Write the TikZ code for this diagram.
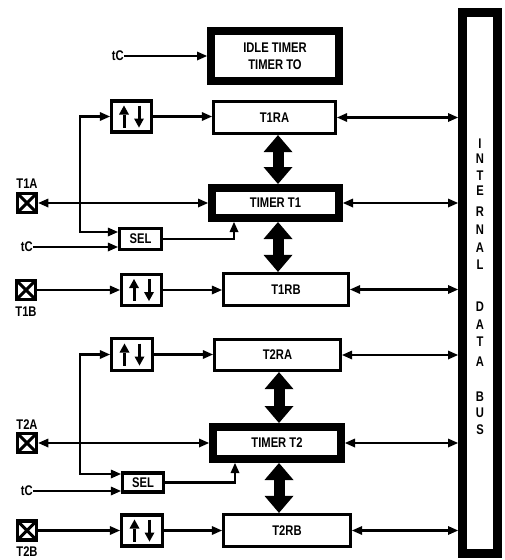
\documentclass[tikz,border=0pt]{standalone}
\usepackage{fontspec}
\setmainfont{Liberation Sans}[FakeStretch=0.8]
\usetikzlibrary{arrows.meta,calc}
\begin{document}
\begin{tikzpicture}[x=1pt,y=-1pt,
  every node/.style={font=\bfseries\fontsize{14}{17}\selectfont,inner sep=0pt},
  conn/.style={line width=2.4pt,-{Triangle[length=10pt,width=9pt,line width=0pt]}},
  conntwo/.style={line width=2.4pt,{Triangle[length=10pt,width=9pt,line width=0pt]}-{Triangle[length=10pt,width=9pt,line width=0pt]}},
  fat/.style={line width=11pt,{Triangle[length=17pt,width=29pt,line width=0pt]}-{Triangle[length=17pt,width=29pt,line width=0pt]}},
  rbox/.style 2 args={draw,line width=3.2pt,minimum width=#1,minimum height=#2},
  tbox/.style 2 args={draw,line width=8pt,minimum width=#1,minimum height=#2},
  padbox/.style={draw,line width=3.6pt,minimum size=19pt,
    path picture={\draw[line width=3pt] (path picture bounding box.north west) -- (path picture bounding box.south east)
      (path picture bounding box.south west) -- (path picture bounding box.north east);}},
  udbox/.style 2 args={draw,line width=3.2pt,minimum width=#1,minimum height=#2,
    path picture={
      \draw[line width=3pt,-{Triangle[length=9pt,width=10pt,line width=0pt]}]
        ([shift={(-7.5pt,-11pt)}]path picture bounding box.center) -- ([shift={(-7.5pt,11pt)}]path picture bounding box.center);
      \draw[line width=3pt,-{Triangle[length=9pt,width=10pt,line width=0pt]}]
        ([shift={(7.5pt,11pt)}]path picture bounding box.center) -- ([shift={(7.5pt,-11pt)}]path picture bounding box.center);}}
]
\useasboundingbox (0,0) rectangle (504,560);

% internal data bus
\node[draw,line width=9pt,minimum width=35pt,minimum height=541pt] (bus) at (480,283) {};
\foreach \l/\y [count=\i] in {I/144,N/159,T/176,E/191,R/212,N/230,A/248,L/265,D/307,A/325,T/342,A/362,B/397,U/413,S/430}
  \node (bl\i) at (480,\y) {\l};

% idle timer
\node[tbox={128pt}{50pt},align=center] (T0) at (275,56) {IDLE TIMER\\TIMER TO};
\node[anchor=east] (tc0) at (124,56) {tC};
\draw[conn] (tc0.east) -- (T0.west);

% ---------------- group 1
\node[rbox={122pt}{32pt}] (T1RA) at (274.5,117.5) {T1RA};
\node[udbox={40pt}{31pt}] (ud1) at (131.5,116.5) {};
\node[tbox={127pt}{30pt}] (T1) at (275.5,203) {TIMER T1};
\node[rbox={42pt}{21pt}] (sel1) at (140.5,239) {SEL};
\node[rbox={125pt}{32pt}] (T1RB) at (286,289.5) {T1RB};
\node[udbox={40pt}{31pt}] (ud2) at (141.5,290) {};
\node[padbox] (p1a) at (27,203) {};
\node (l1a) at (27,184) {T1A};
\node[padbox] (p1b) at (26,290) {};
\node (l1b) at (26,312) {T1B};
\node[anchor=east] (tc1) at (33,247) {tC};

\coordinate (xv1) at (80,232);
\coordinate (xs1) at (234,0);
\coordinate (xf1) at (278,0);

\draw[conntwo] (ud1.west) -| (xv1) -- (xv1 -| sel1.west);
\draw[conn] (tc1.east) -- (tc1.east -| sel1.west);
\draw[conn] (sel1.east) -| (T1.south -| xs1);
\draw[conn] (ud1.east) -- (ud1.east -| T1RA.west);
\draw[conntwo] (p1a.east) -- (T1.west);
\draw[conn] (p1b.east) -- (ud2.west);
\draw[conn] (ud2.east) -- (ud2.east -| T1RB.west);
\draw[fat] (T1RA.south -| xf1) -- (T1.north -| xf1);
\draw[fat] (T1.south -| xf1) -- (T1RB.north -| xf1);
\draw[conntwo] (T1RA.east) -- (T1RA.east -| bus.west);
\draw[conntwo] (T1.east) -- (T1.east -| bus.west);
\draw[conntwo] (T1RB.east) -- (T1RB.east -| bus.west);

% ---------------- group 2
\node[udbox={41pt}{32pt}] (ud3) at (132,354.5) {};
\node[rbox={126pt}{31pt}] (T2RA) at (277.5,355) {T2RA};
\node[tbox={128pt}{32pt}] (T2) at (277,443) {TIMER T2};
\node[rbox={41pt}{19pt}] (sel2) at (143,482.5) {SEL};
\node[rbox={127pt}{32pt}] (T2RB) at (287,530.5) {T2RB};
\node[udbox={41pt}{31pt}] (ud4) at (142,530.5) {};
\node[padbox] (p2a) at (27,443) {};
\node (l2a) at (27,425) {T2A};
\node[padbox] (p2b) at (27,530.5) {};
\node (l2b) at (27,552) {T2B};
\node[anchor=east] (tc2) at (33,491) {tC};

\coordinate (xv2) at (80,474);
\coordinate (xs2) at (235,0);
\coordinate (xf2) at (279,0);

\draw[conntwo] (ud3.west) -| (xv2) -- (xv2 -| sel2.west);
\draw[conn] (tc2.east) -- (tc2.east -| sel2.west);
\draw[conn] (sel2.east) -| (T2.south -| xs2);
\draw[conn] (ud3.east) -- (ud3.east -| T2RA.west);
\draw[conntwo] (p2a.east) -- (T2.west);
\draw[conn] (p2b.east) -- (ud4.west);
\draw[conn] (ud4.east) -- (ud4.east -| T2RB.west);
\draw[fat] (T2RA.south -| xf2) -- (T2.north -| xf2);
\draw[fat] (T2.south -| xf2) -- (T2RB.north -| xf2);
\draw[conntwo] (T2RA.east) -- (T2RA.east -| bus.west);
\draw[conntwo] (T2.east) -- (T2.east -| bus.west);
\draw[conntwo] (T2RB.east) -- (T2RB.east -| bus.west);
\end{tikzpicture}
\end{document}
